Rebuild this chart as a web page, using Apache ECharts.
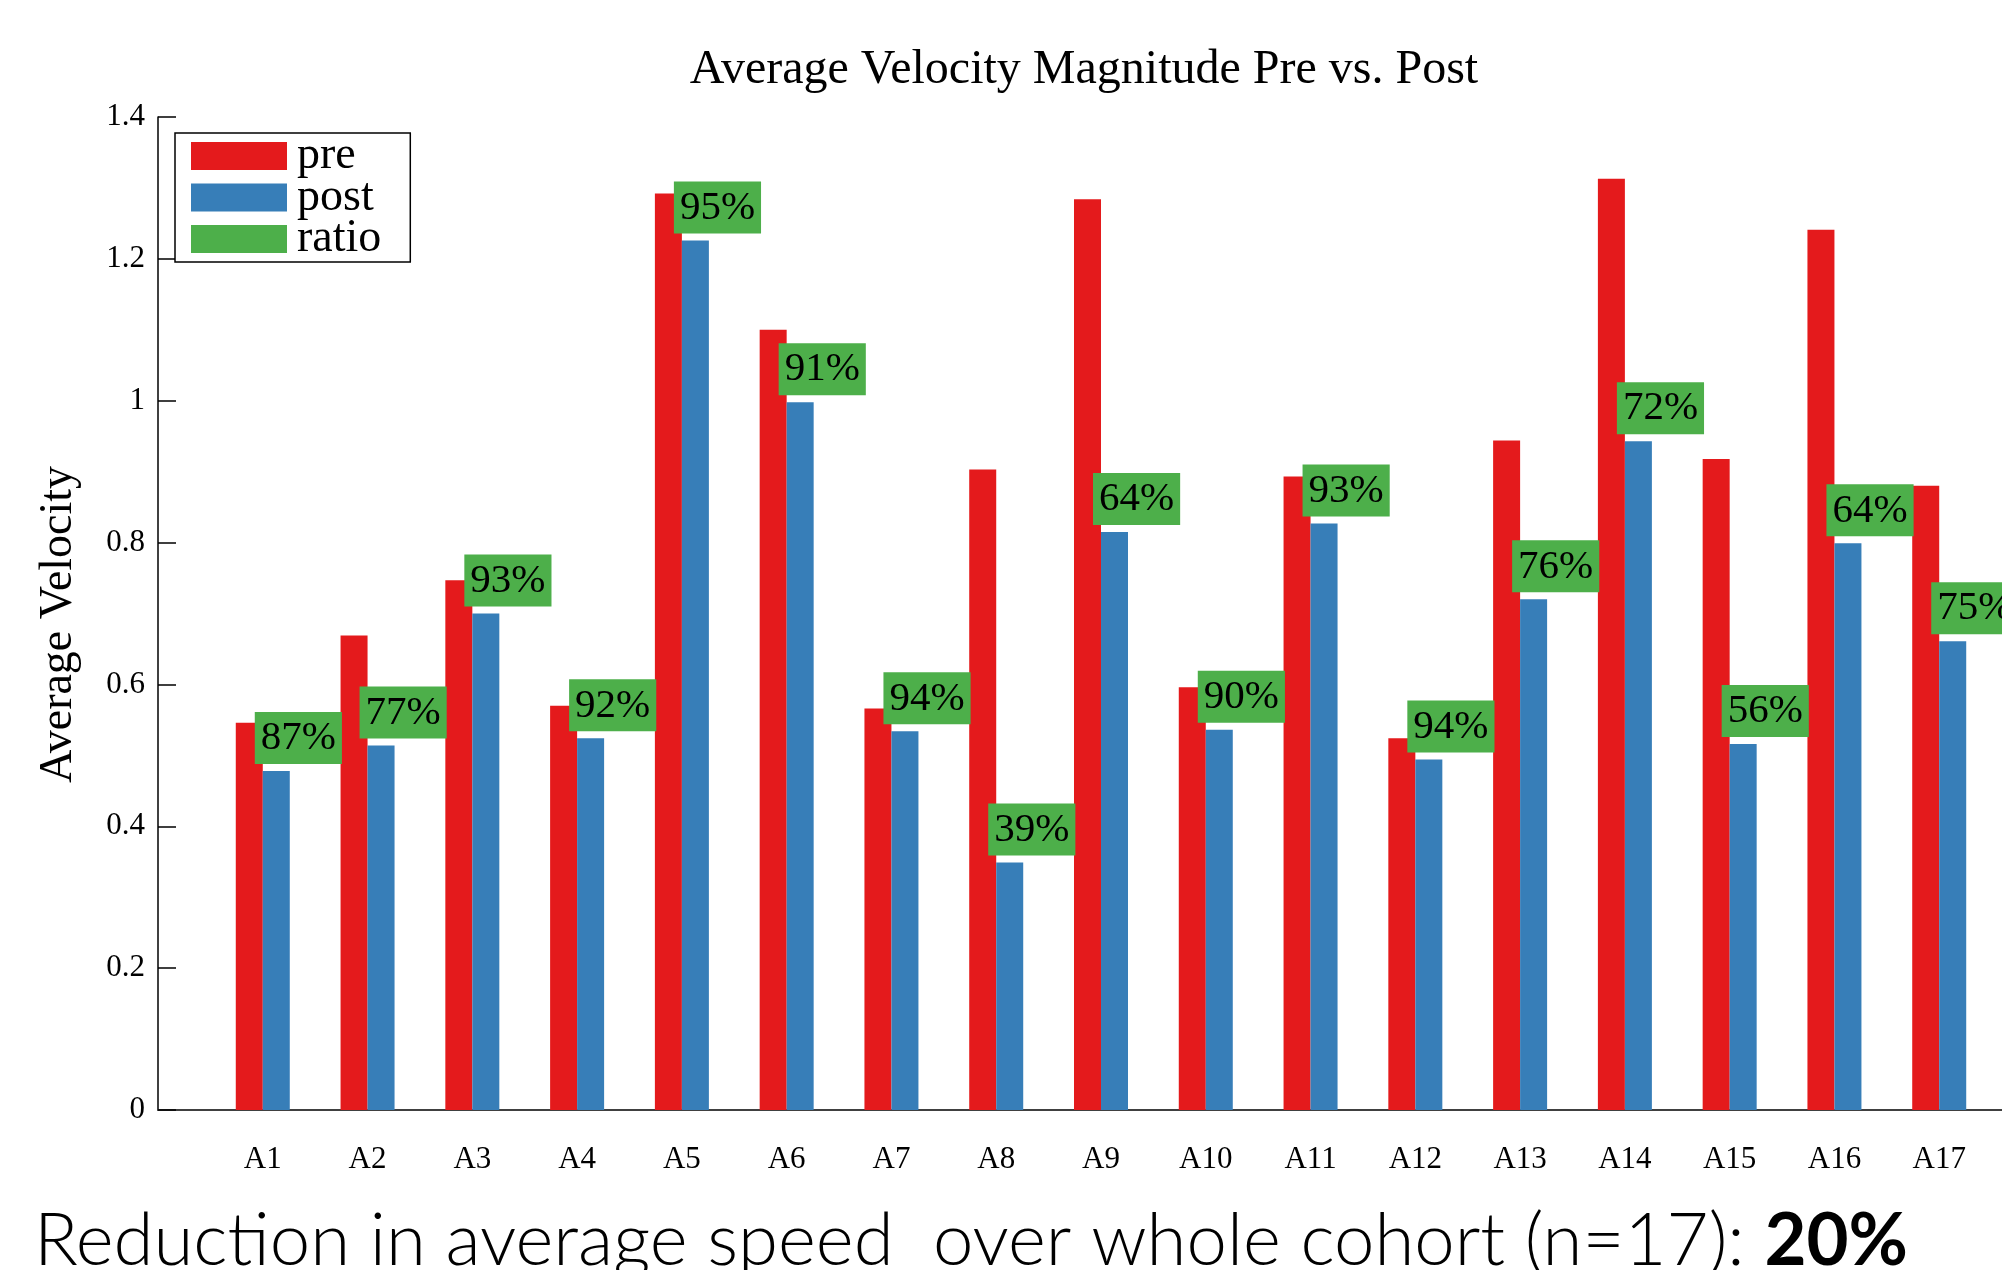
<!DOCTYPE html>
<html>
<head>
<meta charset="utf-8">
<script src="https://cdn.jsdelivr.net/npm/echarts@6/dist/echarts.min.js"></script>
<style>
html,body{margin:0;padding:0;background:#fff;}
#chart{width:2002px;height:1270px;}
</style>
</head>
<body>
<div id="chart"></div>
<script>
const categories = ['A1','A2','A3','A4','A5','A6','A7','A8','A9','A10','A11','A12','A13','A14','A15','A16','A17'];
const preValues  = [0.546,0.669,0.747,0.570,1.292,1.100,0.566,0.903,1.284,0.596,0.893,0.524,0.944,1.313,0.918,1.241,0.880];
const postValues = [0.478,0.514,0.700,0.524,1.226,0.998,0.534,0.349,0.815,0.536,0.827,0.494,0.720,0.943,0.516,0.799,0.661];
const ratioLabels = [87,77,93,92,95,91,94,39,64,90,93,94,76,72,56,64,75];
const yTicks = [0,0.2,0.4,0.6,0.8,1,1.2,1.4];
const titleText = 'Average Velocity Magnitude Pre vs. Post';
const yAxisTitle = 'Average Velocity';
const noteText = 'Reduction in average speed  over whole cohort (n=17): ';
const noteBold = '20%';

const RED = '#E41A1C', BLUE = '#377EB8', GREEN = '#4DAF4A';
const SERIF = '"Liberation Serif","DejaVu Serif",serif';
const SANS = 'Lato,"Open Sans",sans-serif';

const axisCats = [''].concat(categories, ['']);

const chart = echarts.init(document.getElementById('chart'));
chart.setOption({
  backgroundColor: '#fff',
  animation: false,
  title: {
    text: titleText,
    left: 1079, top: 41, textAlign: 'center',
    textStyle: {fontFamily: SERIF, fontSize: 48, fontWeight: 'normal', color: '#000'}
  },
  legend: {
    orient: 'vertical', left: 175, top: 133,
    data: ['pre','post','ratio'],
    icon: 'rect', itemWidth: 96, itemHeight: 28, itemGap: -4.5,
    backgroundColor: '#fff', borderColor: '#000', borderWidth: 1.5,
    padding: [0, 29, 0, 16],
    textStyle: {fontFamily: SERIF, fontSize: 46, color: '#000', padding: [0,0,0,5]}
  },
  grid: {left: 158, top: 117, width: 1886, height: 993, outerBoundsMode: 'none', containLabel: false},
  xAxis: {
    type: 'category', data: axisCats, boundaryGap: false,
    axisLine: {lineStyle: {color: '#404040', width: 2}},
    axisTick: {show: false},
    splitLine: {show: false},
    axisLabel: {interval: 0, fontFamily: SERIF, fontSize: 31, color: '#000', margin: 34}
  },
  yAxis: {
    type: 'value', min: 0, max: 1.4, interval: 0.2,
    name: yAxisTitle, nameLocation: 'middle', nameRotate: 90, nameGap: 76,
    nameTextStyle: {fontFamily: SERIF, fontSize: 46, color: '#000', padding: [0, 22, 0, 0]},
    axisLine: {show: true, lineStyle: {color: '#000', width: 1.5}},
    axisTick: {show: true, inside: true, length: 18, lineStyle: {color: '#000', width: 1.5}},
    splitLine: {show: false},
    axisLabel: {fontFamily: SERIF, fontSize: 31, color: '#000', margin: 13,
      formatter: v => { const t = yTicks.find(x => Math.abs(x - v) < 1e-9); return String(t !== undefined ? t : v); }}
  },
  series: [
    {name: 'pre', type: 'bar', barWidth: 27, barGap: '0%',
     itemStyle: {color: RED},
     data: categories.map((c, i) => [c, preValues[i]])},
    {name: 'post', type: 'bar', barWidth: 27, barGap: '0%',
     itemStyle: {color: BLUE},
     data: categories.map((c, i) => [c, postValues[i]])},
    {name: 'ratio', type: 'scatter', symbol: 'rect', symbolSize: 0,
     itemStyle: {color: GREEN, opacity: 1}, z: 5,
     data: categories.map((c, i) => [c, postValues[i]]),
     label: {show: true, position: [-8, -7], align: 'left', verticalAlign: 'bottom',
       formatter: p => ratioLabels[p.dataIndex] + '%',
       backgroundColor: GREEN, padding: [6, 6, 5, 6],
       fontFamily: SERIF, fontSize: 41, color: '#000'}}
  ],
  graphic: [{
    type: 'text', left: 34, top: 1205,
    style: {
      text: '{n|' + noteText + '}{b|' + noteBold + '}',
      rich: {
        n: {fontFamily: SANS, fontSize: 72.5, fontWeight: 300, fill: '#000'},
        b: {fontFamily: SANS, fontSize: 72.5, fontWeight: 'bold', fill: '#000'}
      }
    }
  }]
});
</script>
</body>
</html>
